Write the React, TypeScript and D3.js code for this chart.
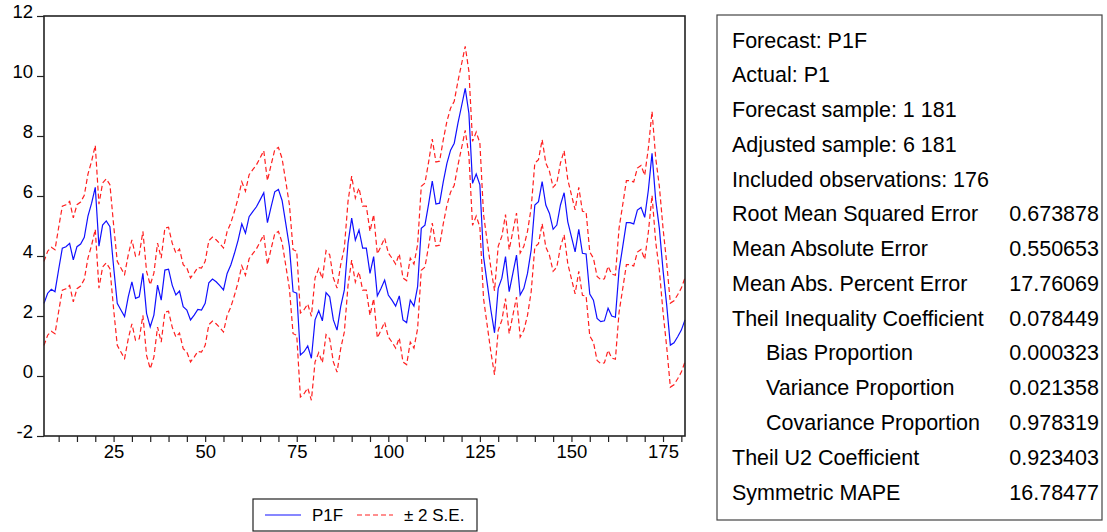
import React, { useEffect, useRef } from "react";
import * as d3 from "d3";

// observation numbers start at 6 (adjusted sample 6 181)
const startObs = 6;
const endObs = 181;

// forecast P1F, obs 6..181
const p1f = [
    2.42, 2.76, 2.89, 2.81, 3.55, 4.26, 4.31, 4.42, 3.87, 4.31,
    4.40, 4.62, 5.33, 5.76, 6.29, 4.33, 5.03, 5.17, 4.98, 3.64,
    2.42, 2.20, 1.98, 2.64, 3.14, 2.59, 2.64, 3.42, 2.09, 1.64,
    2.03, 3.03, 2.53, 3.53, 3.56, 3.03, 2.70, 2.83, 2.31, 2.20,
    1.87, 2.03, 2.22, 2.20, 2.42, 3.11, 3.23, 3.14, 3.01, 2.87,
    3.42, 3.70, 4.09, 4.53, 5.07, 4.76, 5.31, 5.48, 5.64, 5.87,
    6.11, 5.11, 5.64, 6.14, 6.22, 5.85, 5.09, 4.31, 2.81, 2.76,
    0.70, 0.81, 1.00, 0.59, 1.87, 2.18, 1.84, 2.78, 2.64, 1.87,
    1.53, 2.31, 2.87, 4.42, 5.26, 4.53, 4.87, 4.26, 4.26, 3.42,
    3.98, 2.67, 2.92, 3.20, 2.70, 2.53, 2.33, 2.67, 1.87, 1.78,
    2.53, 2.33, 2.98, 4.92, 5.03, 5.73, 6.50, 5.73, 5.76, 6.47,
    7.09, 7.53, 7.76, 8.42, 9.00, 9.59, 8.76, 6.42, 6.73, 6.37,
    3.98, 3.09, 2.20, 1.44, 2.92, 3.26, 3.98, 2.81, 3.42, 4.03,
    2.70, 2.92, 3.42, 4.20, 5.70, 5.81, 6.48, 5.70, 5.42, 4.89,
    5.03, 5.70, 6.11, 5.14, 4.64, 4.14, 4.89, 4.09, 4.07, 2.73,
    2.53, 1.92, 1.81, 1.84, 2.26, 2.00, 1.96, 3.53, 4.31, 5.11,
    5.11, 5.07, 5.53, 5.62, 5.29, 6.20, 7.42, 5.87, 4.92, 3.53,
    2.37, 1.03, 1.11, 1.31, 1.53, 1.87,
];

// width of the +/- 2 S.E. band
const twoSE = 1.4;

const yTicks = [-2, 0, 2, 4, 6, 8, 10, 12];
const xTicks = d3.range(10, 181, 5);
const xLabels = [25, 50, 75, 100, 125, 150, 175];

const legendKeys = ["P1F", "\u00b1 2 S.E."];

const statNames = [
    "Forecast: P1F",
    "Actual: P1",
    "Forecast sample: 1 181",
    "Adjusted sample: 6 181",
    "Included observations: 176",
    "Root Mean Squared Error",
    "Mean Absolute Error",
    "Mean Abs. Percent Error",
    "Theil Inequality Coefficient",
    "Bias Proportion",
    "Variance Proportion",
    "Covariance Proportion",
    "Theil U2 Coefficient",
    "Symmetric MAPE",
];
const statValues = [
    "", "", "", "", "",
    "0.673878", "0.550653", "17.76069", "0.078449",
    "0.000323", "0.021358", "0.978319", "0.923403", "16.78477",
];
const indented = ["Bias Proportion", "Variance Proportion", "Covariance Proportion"];

const App = () => {
    const svgRef = useRef(null);
    const font = "'Liberation Sans', Arial, sans-serif";

    useEffect(() => {
        const svg = d3.select(svgRef.current);
        svg.selectAll("*").remove();

        const plot = { left: 44, right: 685, top: 16, bottom: 436 };

        const xScale = d3.scaleLinear().domain([startObs, endObs]).range([plot.left, plot.right]);
        const yScale = d3.scaleLinear().domain([-2, 12]).range([plot.bottom, plot.top]);

        const rows = p1f.map((v, i) => ({ obs: startObs + i, v }));

        const line = (offset) =>
            d3.line()
                .x((d) => xScale(d.obs))
                .y((d) => yScale(d.v + offset));

        // bands
        [twoSE, -twoSE].forEach((off) => {
            svg.append("path")
                .datum(rows)
                .attr("fill", "none")
                .attr("stroke", "#ff2020")
                .attr("stroke-width", 1.2)
                .attr("stroke-dasharray", "5,3")
                .attr("d", line(off));
        });

        // forecast
        svg.append("path")
            .datum(rows)
            .attr("fill", "none")
            .attr("stroke", "#1010ff")
            .attr("stroke-width", 1.2)
            .attr("d", line(0));

        // frame
        svg.append("rect")
            .attr("x", plot.left)
            .attr("y", plot.top)
            .attr("width", plot.right - plot.left)
            .attr("height", plot.bottom - plot.top)
            .attr("fill", "none")
            .attr("stroke", "#222")
            .attr("stroke-width", 1.6);

        // y axis
        const yAxis = svg.append("g")
            .attr("transform", `translate(${plot.left},0)`)
            .call(
                d3.axisLeft(yScale)
                    .tickValues(yTicks)
                    .tickSize(7)
                    .tickSizeOuter(0)
                    .tickPadding(4)
                    .tickFormat((d) => String(d))
            );
        yAxis.select(".domain").remove();
        yAxis.selectAll("line").attr("stroke", "#222").attr("stroke-width", 1.2);
        yAxis.selectAll("text")
            .attr("dy", "0.1em")
            .attr("fill", "#000")
            .style("font-family", font)
            .style("font-size", "18.5px");

        // x axis
        const xAxis = svg.append("g")
            .attr("transform", `translate(0,${plot.bottom})`)
            .call(
                d3.axisBottom(xScale)
                    .tickValues(xTicks)
                    .tickSize(6)
                    .tickSizeOuter(0)
                    .tickPadding(3)
                    .tickFormat((d) => (xLabels.includes(d) ? String(d) : ""))
            );
        xAxis.select(".domain").remove();
        xAxis.selectAll("line").attr("stroke", "#222").attr("stroke-width", 1.2);
        xAxis.selectAll("text")
            .attr("fill", "#000")
            .style("font-family", font)
            .style("font-size", "18.5px");

        // legend
        const legend = svg.append("g").attr("transform", "translate(253,499)");
        legend.append("rect")
            .attr("width", 224)
            .attr("height", 32)
            .attr("fill", "#fff")
            .attr("stroke", "#222")
            .attr("stroke-width", 1.2);
        const legendColor = d3.scaleOrdinal().domain(legendKeys).range(["#1010ff", "#ff2020"]);
        const legendX = d3.scaleOrdinal().domain(legendKeys).range([12, 104]);
        legend.selectAll("line.key")
            .data(legendKeys)
            .enter()
            .append("line")
            .attr("x1", (d) => legendX(d))
            .attr("x2", (d) => legendX(d) + 36)
            .attr("y1", 16)
            .attr("y2", 16)
            .attr("stroke", (d) => legendColor(d))
            .attr("stroke-width", 1.2)
            .attr("stroke-dasharray", (d, i) => (i === 1 ? "5,3" : null));
        legend.selectAll("text")
            .data(legendKeys)
            .enter()
            .append("text")
            .attr("x", (d) => legendX(d) + 47)
            .attr("y", 22)
            .style("font-family", font)
            .style("font-size", "17px")
            .text((d) => d);

        // statistics table
        const table = svg.append("g");
        table.append("rect")
            .attr("x", 717)
            .attr("y", 15)
            .attr("width", 385)
            .attr("height", 505)
            .attr("fill", "#fff")
            .attr("stroke", "#444")
            .attr("stroke-width", 1.2);
        const rowY = d3.scalePoint().domain(statNames).range([40, 492]);
        table.selectAll("text.name")
            .data(statNames)
            .enter()
            .append("text")
            .attr("x", (d) => (indented.includes(d) ? 766 : 732))
            .attr("y", (d) => rowY(d) + 7.5)
            .style("font-family", font)
            .style("font-size", "21.5px")
            .text((d) => d);
        table.selectAll("text.value")
            .data(statValues)
            .enter()
            .append("text")
            .attr("x", 1099)
            .attr("y", (d, i) => rowY(statNames[i]) + 7.5)
            .attr("text-anchor", "end")
            .style("font-family", font)
            .style("font-size", "21.5px")
            .text((d) => d);
    }, []);

    return (
        <svg
            ref={svgRef}
            width={1107}
            height={532}
            style={{ position: "absolute", left: 0, top: 0, background: "#fff" }}
        />
    );
};

export default App;
